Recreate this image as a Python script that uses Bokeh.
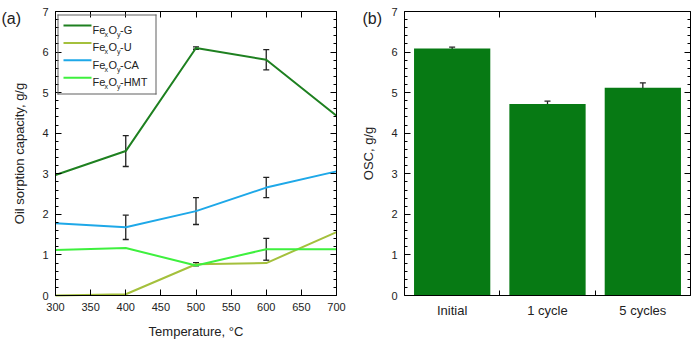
import numpy as np
from bokeh.plotting import figure
from bokeh.models import (Range1d, LinearAxis, SingleIntervalTicker, FixedTicker,
                          Whisker, ColumnDataSource, TeeHead, Label, BoxAnnotation,
                          CustomJSTickFormatter)
from bokeh.layouts import row
from bokeh.embed import file_html
from bokeh.resources import INLINE

# ---------------- data ----------------
temps = [300, 400, 500, 600, 700]
g_vals = [2.97, 3.56, 6.10, 5.81, 4.43]
g_err = [0, 0.38, 0.03, 0.25, 0]
u_vals = [0.0, 0.03, 0.77, 0.80, 1.56]
u_err = [0, 0, 0.04, 0, 0]
ca_vals = [1.78, 1.68, 2.08, 2.66, 3.06]
ca_err = [0, 0.30, 0.33, 0.25, 0]
hmt_vals = [1.12, 1.17, 0.74, 1.14, 1.14]
hmt_err = [0, 0, 0, 0.27, 0]
series_names = ["G", "U", "CA", "HMT"]

cycles = ["Initial", "1 cycle", "5 cycles"]
osc_vals = [6.09, 4.72, 5.12]
osc_err = [0.03, 0.07, 0.12]

colors = ["#1e8020", "#a4c03c", "#1ea8e8", "#3ef03e"]
bar_color = "#077a14"
FONT = "Liberation Sans"
TXT = "#222222"
H = 343


def make_fig(width, box, xlim, ylim):
    """box = (left, right, top, bottom) of the plotting area in canvas pixels."""
    l, r, t, b = box
    sx = (xlim[1] - xlim[0]) / (r - l)
    sy = (ylim[1] - ylim[0]) / (b - t)
    xr = Range1d(xlim[0] - l * sx, xlim[1] + (width - r) * sx)
    yr = Range1d(ylim[0] - (H - b) * sy, ylim[1] + t * sy)
    p = figure(width=width, height=H, x_range=xr, y_range=yr,
               x_axis_location=None, y_axis_location=None,
               min_border_left=0, min_border_right=0, min_border_top=0,
               min_border_bottom=0, output_backend="svg", toolbar_location=None)
    p.outline_line_color = None
    p.grid.visible = False
    p.background_fill_color = "white"
    return p


def style_axis(ax, labels=True, minor=True):
    ax.axis_line_color = "black"
    ax.major_tick_in = 6
    ax.major_tick_out = 0
    ax.minor_tick_in = 3 if minor else 0
    ax.minor_tick_out = 0
    ax.major_tick_line_color = "black"
    ax.minor_tick_line_color = "black" if minor else None
    ax.major_label_text_font = FONT
    ax.major_label_text_color = TXT
    ax.axis_label_text_font = FONT
    ax.axis_label_text_font_style = "normal"
    ax.axis_label_text_color = TXT
    ax.axis_label_text_font_size = "13px"
    ax.major_label_text_font_size = "11px"
    ax.major_label_standoff = 7
    if not labels:
        ax.formatter = CustomJSTickFormatter(code="return ''")
        ax.major_label_standoff = 0


def sbox(p, left, right, bottom, top, color):
    p.add_layout(BoxAnnotation(left=left, right=right, bottom=bottom, top=top,
                               left_units="screen", right_units="screen",
                               bottom_units="screen", top_units="screen",
                               fill_color=color, fill_alpha=1.0, line_color=None))


def text(p, x, y, t, size, color=TXT):
    p.add_layout(Label(x=x, y=y, x_units="screen", y_units="screen", text=t,
                       text_font=FONT, text_font_size=size, text_color=color,
                       text_baseline="alphabetic", text_align="left"))


# ---------------- panel (a) ----------------
X1, Y1 = (300, 700), (0, 7)
p1 = make_fig(355, (55, 336, 11, 295), X1, Y1)

bot = LinearAxis(fixed_location=Y1[0], bounds=X1,
                 ticker=SingleIntervalTicker(interval=50, num_minor_ticks=0))
style_axis(bot, minor=False)
bot.axis_label = "Temperature, \u00b0C"
bot.axis_label_standoff = 10
p1.add_layout(bot, "below")

lef = LinearAxis(fixed_location=X1[0], bounds=Y1,
                 ticker=SingleIntervalTicker(interval=1, num_minor_ticks=5))
style_axis(lef)
lef.axis_label = "Oil sorption capacity, g/g"
lef.axis_label_standoff = 12
p1.add_layout(lef, "left")

top = LinearAxis(fixed_location=Y1[1], bounds=X1,
                 ticker=SingleIntervalTicker(interval=50, num_minor_ticks=0))
style_axis(top, labels=False, minor=False)
p1.add_layout(top, "above")

rig = LinearAxis(fixed_location=X1[1], bounds=Y1,
                 ticker=SingleIntervalTicker(interval=1, num_minor_ticks=5))
style_axis(rig, labels=False)
p1.add_layout(rig, "right")

all_vals = [g_vals, u_vals, ca_vals, hmt_vals]
all_errs = [g_err, u_err, ca_err, hmt_err]
for vals, col in zip(all_vals, colors):
    p1.line(temps, vals, line_color=col, line_width=2)
for vals, errs in zip(all_vals, all_errs):
    xs = [t for t, e in zip(temps, errs) if e > 0]
    up = [v + e for v, e in zip(vals, errs) if e > 0]
    lo = [v - e for v, e in zip(vals, errs) if e > 0]
    if xs:
        src = ColumnDataSource(dict(x=xs, upper=up, lower=lo))
        p1.add_layout(Whisker(source=src, base="x", upper="upper", lower="lower",
                              line_color="#222222", line_width=1.3,
                              upper_head=TeeHead(size=6, line_color="#222222", line_width=1.3),
                              lower_head=TeeHead(size=6, line_color="#222222", line_width=1.3)))

# legend (screen pixels, origin at canvas bottom-left)
LB_L, LB_R, LB_T, LB_B = 57, 156, H - 14, H - 94
bc = "#606060"
sbox(p1, LB_L, LB_R, LB_T - 1, LB_T, bc)
sbox(p1, LB_L, LB_R, LB_B, LB_B + 1, bc)
sbox(p1, LB_L, LB_L + 1, LB_B, LB_T, bc)
sbox(p1, LB_R - 1, LB_R, LB_B, LB_T, bc)
for i, (name, col) in enumerate(zip(series_names, colors)):
    ly = H - 25 - i * 17.4
    sbox(p1, 63, 91, ly - 1, ly + 1, col)
    base = ly - 4.3
    sub = ly - 9
    text(p1, 92, base, "Fe", "11px")
    text(p1, 104, sub, "x", "7px")
    text(p1, 108, base, "O", "11px")
    text(p1, 116.5, sub, "y", "7px")
    text(p1, 119.5, base, "-" + name, "11px")

text(p1, 1, H - 18, "(a)", "16px")

# ---------------- panel (b) ----------------
X2, Y2 = (0, len(cycles)), (0, 7)
p2 = make_fig(339, (49, 335, 11, 295), X2, Y2)

bx = [i + 0.5 for i in range(len(cycles))]
bounds = [float(i) for i in range(1, len(cycles))]
p2.vbar(x=bx, top=osc_vals, width=0.8, fill_color=bar_color, line_color=None)
src2 = ColumnDataSource(dict(x=bx, upper=[v + e for v, e in zip(osc_vals, osc_err)],
                             lower=[v - e for v, e in zip(osc_vals, osc_err)]))
p2.add_layout(Whisker(source=src2, base="x", upper="upper", lower="lower",
                      line_color="#222222", line_width=1.3,
                      upper_head=TeeHead(size=6, line_color="#222222", line_width=1.3),
                      lower_head=TeeHead(size=6, line_color="#222222", line_width=1.3)))

bot2 = LinearAxis(fixed_location=Y2[0], bounds=X2,
                  ticker=FixedTicker(ticks=bx, minor_ticks=bounds))
style_axis(bot2)
bot2.major_label_overrides = {x: c for x, c in zip(bx, cycles)}
bot2.major_tick_in = 0
bot2.minor_tick_in = 5
bot2.major_label_text_font_size = "13px"
p2.add_layout(bot2, "below")

lef2 = LinearAxis(fixed_location=X2[0], bounds=Y2,
                  ticker=SingleIntervalTicker(interval=1, num_minor_ticks=5))
style_axis(lef2)
lef2.axis_label = "OSC, g/g"
lef2.axis_label_standoff = 12
p2.add_layout(lef2, "left")

top2 = LinearAxis(fixed_location=Y2[1], bounds=X2, ticker=FixedTicker(ticks=bounds))
style_axis(top2, labels=False, minor=False)
p2.add_layout(top2, "above")

rig2 = LinearAxis(fixed_location=X2[1], bounds=Y2,
                  ticker=SingleIntervalTicker(interval=1, num_minor_ticks=5))
style_axis(rig2, labels=False)
p2.add_layout(rig2, "right")

text(p2, 7, H - 18, "(b)", "16px")

layout = row(p1, p2, spacing=0)
open("out.html", "w").write(file_html(layout, INLINE))
